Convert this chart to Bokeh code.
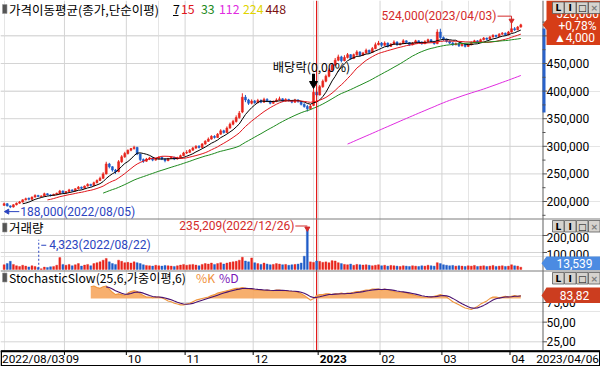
import numpy as np
import pandas as pd
from bokeh.plotting import figure
from bokeh.models import Range1d, ColumnDataSource
from bokeh.core.properties import value
from bokeh.embed import file_html
from bokeh.resources import INLINE

# ------------------------------------------------------------------ data
HOLIDAYS = ["2022-08-15", "2022-09-09", "2022-09-12", "2022-10-03", "2022-10-10",
            "2022-12-30", "2023-01-23", "2023-01-24", "2023-03-01"]
dates = pd.bdate_range("2022-08-03", "2023-04-06", freq="C", holidays=HOLIDAYS)

# prices in thousands of won
open_k = [193,196,192,190,194,197,199,203,206,204,208,211,209,210,214,212,211,213,214,219,
          216,218,221,219,223,226,224,228,231,229,234,238,242,250,268,263,257,254,272,281,
          287,293,296,298,286,276,273,277,279,275,278,280,277,274,278,280,277,279,283,
          288,289,293,297,300,298,304,309,313,318,316,322,328,325,333,340,345,352,362,389,384,378,
          382,379,383,380,385,382,378,381,384,386,382,385,383,380,384,381,376,372,368,374,398,
          393,408,418,427,438,447,456,462,455,461,466,459,466,471,465,469,474,470,477,484,
          487,483,487,481,485,489,484,486,491,488,484,487,491,489,486,490,493,490,486,507,
          497,494,490,487,484,486,482,485,481,484,488,491,489,493,496,494,498,501,499,503,505,502,
          507,513,511,516]
high_k = [198,197,193,195,198,201,204,207,207,209,213,212,211,216,215,213,214,216,221,220,
          219,223,222,224,228,227,229,233,232,236,240,245,253,272,270,264,259,275,284,290,
          294,297,301,299,287,278,279,281,280,279,282,281,278,279,282,281,281,285,290,
          293,295,299,302,302,306,311,316,320,320,324,331,330,336,343,348,356,364,396,393,386,385,
          384,386,385,388,387,383,383,387,390,387,387,386,384,386,385,382,378,375,376,406,401,
          411,421,430,441,451,460,466,464,465,469,467,468,474,472,471,477,475,480,488,491,
          489,490,488,487,492,490,488,494,492,489,489,493,492,490,492,495,494,491,512,513,
          499,495,492,489,488,487,487,486,486,490,493,492,495,498,497,500,503,502,505,507,506,509,
          524,516,518,522]
low_k = [192,191,188,189,193,196,198,202,202,203,207,208,208,209,211,209,210,212,213,215,
         214,217,218,218,222,222,223,227,227,228,233,237,241,249,260,254,250,253,270,279,
         285,291,294,284,273,270,272,275,273,274,276,275,271,273,277,275,276,278,282,
         286,288,292,295,296,297,303,308,312,314,315,321,323,324,332,338,343,350,360,380,375,376,
         377,378,378,379,380,376,377,380,383,380,381,381,378,379,379,374,370,363,366,373,390,
         392,406,416,425,436,445,454,452,454,459,457,458,464,463,464,468,468,469,476,483,
         480,482,479,480,484,482,483,485,486,482,483,486,487,484,485,489,488,484,485,494,
         491,488,485,482,483,480,481,479,480,483,487,487,488,492,492,493,497,497,498,502,500,501,
         506,509,510,515]
close_k = [196,192,190,194,197,199,203,205,204,208,211,209,210,214,212,211,213,215,219,216,
           218,221,219,223,226,224,228,231,229,234,238,242,250,268,263,257,254,272,281,287,
           293,296,298,286,276,273,277,279,275,278,280,277,274,278,280,277,279,283,288,
           289,293,297,300,298,304,309,313,318,316,322,328,325,333,340,345,352,360,389,384,378,382,
           379,383,380,385,382,378,381,384,386,382,385,383,380,384,381,376,372,368,373,398,393,
           408,418,427,438,447,456,462,455,461,466,459,466,471,465,469,474,470,477,484,487,
           483,487,481,485,489,484,486,491,488,484,487,491,489,486,490,493,490,486,507,497,
           494,490,487,484,486,482,485,481,484,488,491,489,493,496,494,498,501,499,503,505,502,507,
           513,511,516,520]
# volume in thousands of shares
volume_k = [28,35,48,30,22,18,25,20,15,22,18,12,4.323,14,12,16,18,25,70,30,
            25,30,22,28,35,20,26,30,22,35,40,45,55,65,45,35,30,55,48,40,
            42,38,45,40,35,28,24,22,20,25,22,20,24,22,20,18,22,26,30,
            25,28,30,26,22,30,35,32,38,30,35,40,32,38,42,45,48,55,72,50,45,68,
            40,35,30,38,32,28,30,35,32,28,30,25,28,30,32,38,78,235.209,45,42,50,
            48,42,45,40,52,50,40,35,30,28,32,25,30,28,26,28,25,22,25,28,
            22,25,20,24,22,20,18,22,20,18,22,20,18,22,20,25,22,20,40,35,
            28,25,22,24,20,22,20,18,22,20,24,18,20,22,18,20,24,18,20,22,18,20,
            28,22,20,13.539]
# slow %K, first value on bar STOCH_START
STOCH_START = 28
stoch_k = [95,96,94,93,95,96,92,88,85,86,85,84,
           87,89,90,89,86,84,82,82,81,82,82,81,79,77,76,74,73,72,72,
           73,74,76,78,79,80,81,82,84,85,87,88,89,90,91,92,93,93,94,93,92,92,
           91,91,91,90,91,90,90,91,91,90,90,89,89,89,88,86,84,81,78,80,84,
           85,85,86,86,85,86,86,87,86,87,87,88,89,89,90,91,91,92,92,92,
           91,92,91,90,89,88,88,88,87,86,85,84,83,82,82,82,82,83,84,85,
           84,82,79,76,74,72,70,68,67,66,68,70,73,75,77,80,82,82,81,82,83,82,
           83,84,83,83.82]
STOCH_PARAMS = (25, 6, 6)
STOCH_D_WEIGHTS = [1, 2, 3, 4, 5, 6]
OVERBOUGHT = 80
MA_PERIODS = [7, 15, 33, 112, 224, 448]
MA_COLORS = ["#000000", "#e0161c", "#1e8a1e", "#e02ce0", "#e0d400", "#7a1010"]
PRICE_TICKS = [200000, 250000, 300000, 350000, 400000, 450000, 500000]
PRICE_MINOR = [175000, 225000, 275000, 325000, 375000, 425000, 475000, 525000]
VOL_TICKS = [100000, 200000]
STOCH_TICKS = [25, 50, 75]
EXDIV_DATE = "2022-12-28"
CURSOR_DATE = "2022-12-29"

N = len(dates)
for arr in (open_k, high_k, low_k, close_k, volume_k):
    assert len(arr) == N, len(arr)
assert len(stoch_k) == N - STOCH_START

o = np.array(open_k, float) * 1000
hi = np.array(high_k, float) * 1000
lo = np.array(low_k, float) * 1000
c = np.array(close_k, float) * 1000
vol = np.round(np.array(volume_k) * 1000)
idx = np.arange(N)

# ------------------------------------------------------------------ geometry (px)
W, H = 600, 366
BAR_X0, BAR_DX = 3.62, 3.094
AXIS_X = 542
PRICE_REF = (201.0, 200000.0, 1811.6)
VOL_REF = (269.0, 0.0, 5882.0)
STO_REF = (341.3, 25.0, 1.2723)


def vrange(ref):
    y0, v0, k = ref
    return Range1d(start=v0 + (y0 - H) * k, end=v0 + y0 * k)


def ypix(ref, v):
    y0, v0, k = ref
    return y0 - (v - v0) / k


def dx(px):
    return px / BAR_DX


def dy(ref, px):
    return px * ref[2]


UP, DOWN = "#e8251c", "#1f5cc8"
GRID = "#d4d4d4"
NUM = value("Roboto")
KR = value("Noto Sans CJK KR")
PX = dict(x_range_name="px", y_range_name="py")

p = figure(width=W, height=H, output_backend="svg", toolbar_location=None, tools="",
           x_range=Range1d(-BAR_X0 / BAR_DX, (W - BAR_X0) / BAR_DX),
           y_range=vrange(PRICE_REF), x_axis_location=None, y_axis_location=None,
           min_border=0)
p.outline_line_color = None
p.background_fill_color = "white"
p.border_fill_color = "white"
p.extra_x_ranges = {"px": Range1d(0, W)}
p.extra_y_ranges = {"vol": vrange(VOL_REF), "sto": vrange(STO_REF), "py": Range1d(H, 0)}


def txt(x, y, s, color="black", size="11.5px", font=NUM, align="left", style="normal",
        xr="px", yr="py", **kw):
    ys = y if isinstance(y, list) else [y]
    xs = x if isinstance(x, list) else [x] * len(ys)
    ss = s if isinstance(s, list) else [s]
    p.text(x=xs, y=ys, text=ss, text_color=color, text_font=font,
           text_font_size=size, text_align=align, text_baseline="middle",
           text_font_style=style, x_range_name=xr, y_range_name=yr, **kw)


# ------------------------------------------------------------------ grid
month_idx = [i for i in range(1, N) if dates[i].month != dates[i - 1].month]
month_grid = [m - 0.5 for m in month_idx]
p.segment(x0=0, x1=AXIS_X, y0=PRICE_TICKS, y1=PRICE_TICKS, x_range_name="px",
          line_color=GRID, line_width=1)
p.segment(x0=0, x1=AXIS_X, y0=VOL_TICKS, y1=VOL_TICKS, x_range_name="px",
          y_range_name="vol", line_color=GRID, line_width=1)
p.segment(x0=0, x1=AXIS_X, y0=STOCH_TICKS, y1=STOCH_TICKS, x_range_name="px",
          y_range_name="sto", line_color=GRID, line_width=1)
p.segment(x0=month_grid, x1=month_grid, y0=0, y1=350, y_range_name="py",
          line_color=GRID, line_width=1)

# ------------------------------------------------------------------ price
up = c >= o
col = np.where(up, UP, DOWN)
src = ColumnDataSource(dict(x=idx, h=hi, l=lo, top=np.maximum(o, c), bot=np.minimum(o, c),
                            color=col, vol=vol))
p.segment(x0="x", y0="l", x1="x", y1="h", line_color="color", line_width=1, source=src)
p.vbar(x="x", width=0.62, top="top", bottom="bot", fill_color="color", line_color="color",
       line_width=0.6, source=src)
close_s = pd.Series(c)
for per, mc in zip(MA_PERIODS, MA_COLORS):
    ma = close_s.rolling(per).mean().to_numpy()
    if np.all(np.isnan(ma)):
        continue
    ok = ~np.isnan(ma)
    p.line(idx[ok], ma[ok], line_color=mc, line_width=1)

# cursor line
ic = int(np.where(dates == pd.Timestamp(CURSOR_DATE))[0][0])
p.segment(x0=ic, x1=ic, y0=0, y1=350, y_range_name="py", line_color="#e00000", line_width=1)

# ------------------------------------------------------------------ volume
p.vbar(x="x", width=0.62, top="vol", bottom=0, fill_color="color", line_color="color",
       line_width=0.4, source=src, y_range_name="vol")

# ------------------------------------------------------------------ stochastic
K = np.full(N, np.nan)
K[STOCH_START:] = stoch_k
w = np.array(STOCH_D_WEIGHTS, float)
D = np.full(N, np.nan)
for j in range(STOCH_START + len(w) - 1, N):
    D[j] = np.dot(K[j - len(w) + 1:j + 1], w) / w.sum()
ks = idx[STOCH_START:]
kv = K[STOCH_START:]
p.varea(x=ks, y1=np.full(len(ks), OVERBOUGHT), y2=np.maximum(kv, OVERBOUGHT),
        y_range_name="sto", fill_color="#f6a65e", fill_alpha=0.9)
p.line(ks, kv, line_color="#f0963c", line_width=1.1, y_range_name="sto")
dok = ~np.isnan(D)
p.line(idx[dok], D[dok], line_color="#4a1270", line_width=1.1, y_range_name="sto")

# ------------------------------------------------------------------ annotations
RED_A, BLUE_A = "#d42a2a", "#2b44c0"
# price high
ih = int(np.argmax(hi)); vh = hi[ih]
yel = vh + dy(PRICE_REF, 6.5)
p.segment(x0=ih - dx(14), x1=ih, y0=yel, y1=yel, line_color=RED_A, line_width=1)
p.segment(x0=ih, x1=ih, y0=yel, y1=vh + dy(PRICE_REF, 2.5), line_color=RED_A, line_width=1)
p.scatter(x=[ih], y=[vh + dy(PRICE_REF, 2)], marker="inverted_triangle", size=5,
          color=RED_A)
txt(ih - dx(15), yel, f"{int(vh):,}({dates[ih]:%Y/%m/%d})", color=RED_A, size="12px",
    align="right", xr="default", yr="default")
# price low
il = int(np.argmin(lo)); vl = lo[il]
yl = vl - dy(PRICE_REF, 3.5)
p.segment(x0=il - dx(3.5), x1=il + dx(9), y0=yl, y1=yl, line_color=BLUE_A, line_width=1)
p.scatter(x=[il - dx(3)], y=[yl], marker="triangle", angle=np.pi / 2, size=5, color=BLUE_A)
txt(il + dx(10), yl, f"{int(vl):,}({dates[il]:%Y/%m/%d})", color=BLUE_A, size="12px",
    xr="default", yr="default")
# ex-dividend
ie = int(np.where(dates == pd.Timestamp(EXDIV_DATE))[0][0]); ve = hi[ie]
p.segment(x0=ie, x1=ie, y0=ve + dy(PRICE_REF, 14), y1=ve + dy(PRICE_REF, 6),
          line_color="black", line_width=3)
p.scatter(x=[ie], y=[ve + dy(PRICE_REF, 4)], marker="inverted_triangle", size=8,
          color="black")
txt(ie - dx(2), ve + dy(PRICE_REF, 21), "배당락(0,00%)", size="12.3px", font=KR,
    align="center", xr="default", yr="default")
# volume max
iv = int(np.argmax(vol)); vv = vol[iv]
yv = vv + dy(VOL_REF, 3.5)
p.segment(x0=iv - dx(12), x1=iv, y0=yv, y1=yv, line_color=RED_A, line_width=1,
          y_range_name="vol")
p.scatter(x=[iv], y=[vv + dy(VOL_REF, 1)], marker="inverted_triangle", size=5,
          color=RED_A, y_range_name="vol")
txt(iv - dx(13), yv, f"{int(vv):,}({dates[iv]:%Y/%m/%d})", color=RED_A, size="12px",
    align="right", xr="default", yr="vol")
# volume min
im = int(np.argmin(vol)); vm = vol[im]
p.segment(x0=im - dx(2.5), x1=im - dx(2.5), y0=vm, y1=vm + dy(VOL_REF, 29),
          line_color=BLUE_A, line_width=1, line_dash="2 2", y_range_name="vol")
p.segment(x0=im, x1=im + dx(5), y0=vm + dy(VOL_REF, 23.5), y1=vm + dy(VOL_REF, 23.5),
          line_color=BLUE_A, line_width=1, y_range_name="vol")
txt(im + dx(8), vm + dy(VOL_REF, 23.5), f"{int(vm):,}({dates[im]:%Y/%m/%d})",
    color=BLUE_A, size="12px", xr="default", yr="vol")

# ------------------------------------------------------------------ panel separators, right axis
p.segment(x0=0, x1=W, y0=[218.5, 270.5], y1=[218.5, 270.5], **PX,
          line_color="#7c7c7c", line_width=1)
p.segment(x0=AXIS_X + 0.5, x1=AXIS_X + 0.5, y0=0, y1=350, **PX, line_color="#7a7a7a",
          line_width=1.2)
p.quad(left=AXIS_X, right=AXIS_X + 3, top=28, bottom=112, **PX, fill_color="#2a62c9",
       line_color=None)

p.segment(x0=AXIS_X, x1=AXIS_X + 4.5, y0=PRICE_TICKS, y1=PRICE_TICKS, x_range_name="px",
          line_color="#555555", line_width=1)
p.segment(x0=AXIS_X, x1=AXIS_X + 3, y0=PRICE_MINOR, y1=PRICE_MINOR, x_range_name="px",
          line_color="#555555", line_width=1)
txt(546, PRICE_TICKS, [f"{t:,}" for t in PRICE_TICKS], yr="default", size="12px")
p.segment(x0=AXIS_X, x1=AXIS_X + 4.5, y0=VOL_TICKS, y1=VOL_TICKS, x_range_name="px",
          y_range_name="vol", line_color="#555555", line_width=1)
txt(546, VOL_TICKS, [f"{t:,}" for t in VOL_TICKS], yr="vol", y_offset=2, size="12px")
p.segment(x0=AXIS_X, x1=AXIS_X + 4.5, y0=STOCH_TICKS, y1=STOCH_TICKS, x_range_name="px",
          y_range_name="sto", line_color="#555555", line_width=1)
txt(546, STOCH_TICKS, [f"{t:.2f}".replace(".", ",") for t in STOCH_TICKS], yr="sto",
    size="12px")

# current price box
last, prev = c[-1], c[-2]
tip = ypix(PRICE_REF, last)
p.patch(x=[546, 600, 600, 546, 546, 542, 546], y=[0, 0, 44.5, 44.5, tip + 5, tip, tip - 5],
        **PX, fill_color="#d63d17", line_color=None)
txt(577, 13, f"{int(last):,}", color="white", size="12px", align="center")
txt(577, 25.5, f"{(last - prev) / prev * 100:+.2f}%".replace(".", ","), color="white",
    size="12px", align="center")
txt(574, 37, f"▲{int(last - prev):,}", color="white", size="12px", align="center")

# current volume box
p.patch(x=[546, 600, 600, 546, 541], y=[256, 256, 269.5, 269.5, 262.7], **PX,
        fill_color="#4b8be2", line_color=None)
txt(574, 262.8, f"{int(vol[-1]):,}", color="white", size="12px", align="center")

# current stochastic box
st = ypix(STO_REF, K[-1])
p.patch(x=[546, 600, 600, 546, 541], y=[st - 8, st - 8, st + 7.5, st + 7.5, st], **PX,
        fill_color="#cc3d1f", line_color=None)
txt(574, st, f"{K[-1]:.2f}".replace(".", ","), color="white", size="12px", align="center")


def buttons(y_top):
    xs = [552, 564, 576, 588]
    p.quad(left=xs, right=[x + 11.5 for x in xs], top=y_top, bottom=y_top + 11.5, **PX,
           fill_color="#d6d3ce", line_color="#5a5a5a", line_width=0.8)
    p.text(x=[x + 5.75 for x in xs], y=[y_top + 6.2] * 4, text=["L", "I", "□", "×"],
           text_align="center", text_baseline="middle",
           text_color=["black", "black", "black", "#7a7a7a"], text_font=value("DejaVu Sans"),
           text_font_size="9px", text_font_style="bold", **PX)


buttons(1.5)
buttons(220)
buttons(272)

# ------------------------------------------------------------------ titles
def icon(y):
    p.quad(left=2, right=6.5, top=y - 4.5, bottom=y + 4.5, **PX, fill_color="#555555",
           line_color="#999999", line_width=0.6)


icon(8.5)
txt(8.5, 8.5, "가격이동평균(종가,단순이평)", size="12.5px", font=KR)
ma_x = [172.5, 180.5, 200.5, 218.5, 242.5, 265]
for mx, per, mc in zip(ma_x, MA_PERIODS, MA_COLORS):
    txt(mx, 8.5, str(per), color=mc, size="12.3px", font=KR)
p.segment(x0=172.5, x1=178, y0=15, y1=15, **PX, line_color="black", line_width=1)

icon(227)
txt(8.5, 227, "거래량", size="12.5px", font=KR)
icon(277)
k_, s_, d_ = STOCH_PARAMS
txt(8.5, 277, f"StochasticSlow({k_},{s_},가중이평,{d_})", size="12.2px", font=KR)
txt(195.5, 277, "%K", color="#f0903a", size="12.2px", font=KR)
txt(218.5, 277, "%D", color="#7a18b8", size="12.2px", font=KR)

# ------------------------------------------------------------------ date axis strip
p.quad(left=0.75, right=599.25, top=350.8, bottom=365.3, **PX, fill_color="white",
       line_color="black", line_width=1.5)
p.segment(x0=0, x1=W, y0=350.8, y1=350.8, **PX, line_color="black", line_width=2)
p.segment(x0=month_grid, x1=month_grid, y0=351, y1=354.5, y_range_name="py",
          line_color="black", line_width=1)
mlab = ["2023" if dates[m].month == 1 else f"{dates[m].month:02d}" for m in month_idx]
mstyle = ["bold" if dates[m].month == 1 else "normal" for m in month_idx]
msrc = ColumnDataSource(dict(x=month_grid, y=[358.5] * len(month_grid), t=mlab, s=mstyle))
p.text(x="x", y="y", text="t", text_font_style="s", source=msrc, x_offset=1.5,
       text_font=NUM, text_font_size="11.8px", text_baseline="middle", text_align="left",
       text_color="black", y_range_name="py")
txt(1.5, 358.5, f"{dates[0]:%Y/%m/%d}", size="11.8px")
txt(598.5, 358.5, f"{dates[-1]:%Y/%m/%d}", align="right", size="11.8px")

open("out.html", "w").write(file_html(p, INLINE))
